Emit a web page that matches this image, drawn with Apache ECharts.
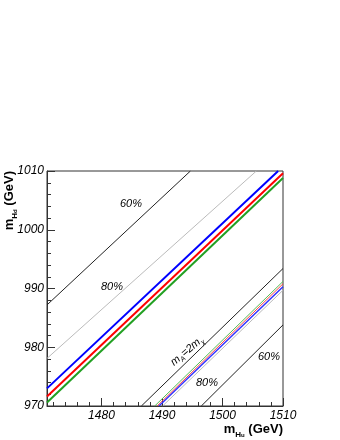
<!DOCTYPE html>
<html><head><meta charset="utf-8">
<script src="https://cdn.jsdelivr.net/npm/echarts@6/dist/echarts.min.js"></script>
<style>html,body{margin:0;padding:0;background:#fff}#c{width:340px;height:440px}</style>
</head><body><div id="c"></div>
<script>
// Axis ranges and tick labels
const xRange = [1471, 1510];
const yRange = [970, 1010];
const xMajorTicks = [1480, 1490, 1500, 1510];
const xMinorTicks = [1472,1474,1476,1478,1480,1482,1484,1486,1488,1490,1492,1494,1496,1498,1500,1502,1504,1506,1508,1510];

// Contour lines (m_Hu, m_Hd) endpoints
const upper60 = [[1471, 987.2], [1494.7, 1010]];
const upper80 = [[1471, 978.1], [1505.6, 1010]];
const upperBlue = [[1471, 973.0], [1509.2, 1010]];
const upperRed = [[1471, 971.6], [1510, 1009.6]];
const upperGreen = [[1471, 970.6], [1510, 1008.8]];
const lineMA = [[1486.6, 970], [1510, 993.4]];
const lowerGreen = [[1488.8, 970], [1510, 991.2]];
const lowerRed = [[1489.2, 970], [1510, 990.8]];
const lowerBlue = [[1489.5, 970], [1510, 990.3]];
const lowerGray = [[1490.1, 970], [1510, 989.7]];
const lower60 = [[1496.5, 970], [1510, 983.8]];

const chart = echarts.init(document.getElementById('c'), null, {renderer: 'canvas'});
function ln(data, color, width) {
  return {type: 'line', data: data, showSymbol: false, symbol: 'none', silent: true, clip: true,
    lineStyle: {color: color, width: width}, xAxisIndex: 0, yAxisIndex: 0, animation: false};
}
const FONT = '"Liberation Sans", Arial, sans-serif';
const plain = v => String(Math.round(v));
chart.setOption({
  animation: false,
  grid: {left: 47, top: 171, width: 236, height: 235, show: true, borderColor: '#333', borderWidth: 1, backgroundColor: '#fff'},
  xAxis: [{
    type: 'value', min: xRange[0], max: xRange[1], position: 'bottom',
    axisLine: {show: true, lineStyle: {color: '#333', width: 1}},
    axisTick: {show: true, inside: true, length: 8, customValues: xMajorTicks, lineStyle: {color: '#333'}},
    axisLabel: {customValues: xMajorTicks, formatter: plain, fontStyle: 'italic', fontSize: 12, fontFamily: FONT, color: '#000', margin: 4, showMinLabel: true, showMaxLabel: true},
    splitLine: {show: false}
  }, {
    type: 'value', min: xRange[0], max: xRange[1], position: 'bottom', gridIndex: 0,
    axisLine: {show: false},
    axisTick: {show: true, inside: true, length: 4, customValues: xMinorTicks, lineStyle: {color: '#333'}},
    axisLabel: {show: false},
    splitLine: {show: false}
  }],
  yAxis: {
    type: 'value', min: yRange[0], max: yRange[1], interval: 10,
    axisLine: {show: true, lineStyle: {color: '#333', width: 1}},
    axisTick: {show: true, inside: true, length: 8, lineStyle: {color: '#333'}},
    minorTick: {show: true, splitNumber: 5, length: 4, lineStyle: {color: '#333'}},
    axisLabel: {formatter: plain, fontStyle: 'italic', fontSize: 12, fontFamily: FONT, color: '#000', margin: 3, showMinLabel: true, showMaxLabel: true},
    splitLine: {show: false}
  },
  series: [
    ln(upper60, '#222', 1),
    ln(upper80, '#bbb', 1),
    ln(upperBlue, '#0000ff', 2),
    ln(upperRed, '#ff0000', 2),
    ln(upperGreen, '#22a022', 2),
    ln(lineMA, '#222', 1),
    ln(lowerGreen, '#55bb55', 1),
    ln(lowerRed, '#ff4444', 1),
    ln(lowerBlue, '#3333ff', 1.5),
    ln(lowerGray, '#bbb', 1),
    ln(lower60, '#222', 1)
  ],
  graphic: [
    {type: 'text', x: 131, y: 204, style: {text: '60%', font: 'italic 11px ' + FONT, fill: '#000', align: 'center', verticalAlign: 'middle'}},
    {type: 'text', x: 112, y: 287, style: {text: '80%', font: 'italic 11px ' + FONT, fill: '#000', align: 'center', verticalAlign: 'middle'}},
    {type: 'text', x: 207, y: 383, style: {text: '80%', font: 'italic 11px ' + FONT, fill: '#000', align: 'center', verticalAlign: 'middle'}},
    {type: 'text', x: 269, y: 357, style: {text: '60%', font: 'italic 11px ' + FONT, fill: '#000', align: 'center', verticalAlign: 'middle'}},
    {type: 'text', x: 187, y: 351, rotation: 40 * Math.PI / 180,
      style: {text: '{a|m}{s|A}{a|=2m}{s|χ}', align: 'center', verticalAlign: 'middle', fill: '#000',
        rich: {a: {font: 'italic 11px ' + FONT, fill: '#000', lineHeight: 14, verticalAlign: 'middle'},
               s: {font: 'italic 7px ' + FONT, fill: '#000', lineHeight: 14, verticalAlign: 'bottom'}}}},
    {type: 'text', x: 283, y: 429,
      style: {text: '{m|m}{h|H}{u|u}{g| (GeV)}', align: 'right', verticalAlign: 'middle', fill: '#000',
        rich: {m: {font: 'bold 13px ' + FONT, fill: '#000', lineHeight: 16, verticalAlign: 'middle'},
               h: {font: 'bold 8px ' + FONT, fill: '#000', lineHeight: 16, verticalAlign: 'bottom'},
               u: {font: 'bold 6px ' + FONT, fill: '#000', lineHeight: 19, verticalAlign: 'bottom'},
               g: {font: 'bold 13px ' + FONT, fill: '#000', lineHeight: 16, verticalAlign: 'middle'}}}},
    {type: 'text', x: 9, y: 171, rotation: Math.PI / 2,
      style: {text: '{m|m}{h|H}{u|d}{g| (GeV)}', align: 'right', verticalAlign: 'middle', fill: '#000',
        rich: {m: {font: 'bold 13px ' + FONT, fill: '#000', lineHeight: 16, verticalAlign: 'middle'},
               h: {font: 'bold 8px ' + FONT, fill: '#000', lineHeight: 16, verticalAlign: 'bottom'},
               u: {font: 'bold 6px ' + FONT, fill: '#000', lineHeight: 19, verticalAlign: 'bottom'},
               g: {font: 'bold 13px ' + FONT, fill: '#000', lineHeight: 16, verticalAlign: 'middle'}}}}
  ]
});
</script></body></html>
